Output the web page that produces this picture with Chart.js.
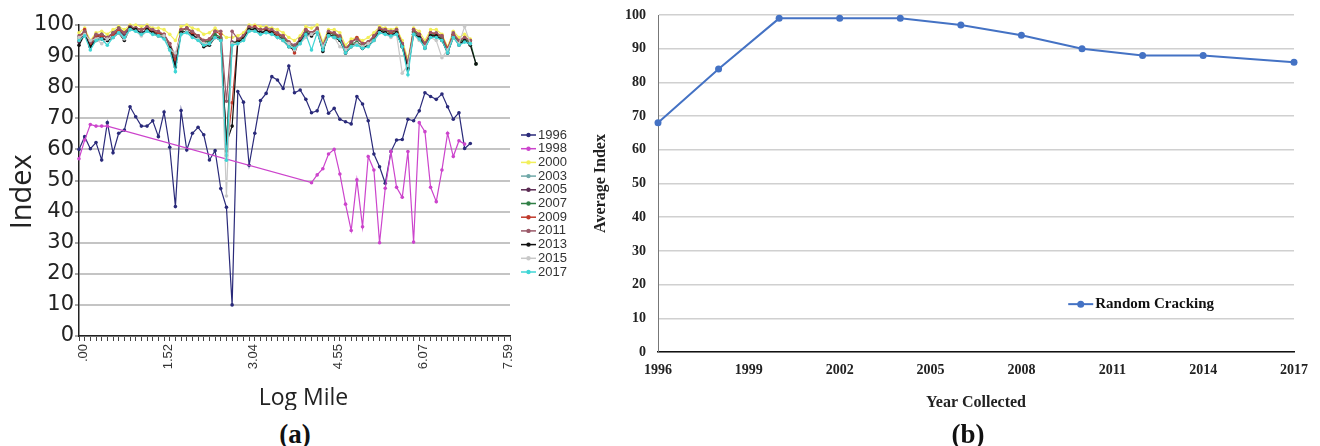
<!DOCTYPE html>
<html>
<head>
<meta charset="utf-8">
<script src="https://cdn.jsdelivr.net/npm/chart.js@4.4.1/dist/chart.umd.min.js"></script>
<style>
  html, body { margin: 0; padding: 0; background: #fff; }
  body { width: 1320px; height: 446px; position: relative; overflow: hidden; }
  canvas { position: absolute; top: 0; }
  #chartA { left: 0; }
  #chartB { left: 590px; }
  .tag { position: absolute; top: 419px; line-height: 1; font: bold 27px 'Liberation Serif', serif; color: #111; transform: translateX(-50%); }
</style>
</head>
<body>
<canvas id="chartA" width="582" height="410"></canvas>
<canvas id="chartB" width="730" height="420"></canvas>
<div class="tag" style="left:295px">(a)</div>
<div class="tag" style="left:968px">(b)</div>
<script>
// ---------- (a) index along the log mile, one line per survey year ----------
const mileStep = 0.1012;
const logMiles = Array.from({ length: 77 }, (_, i) => (i * mileStep).toFixed(2));
const mileTickLabels = ['.00', '1.52', '3.04', '4.55', '6.07', '7.59'];

const idx1996 = [60.0, 64.1, 60.2, 62.2, 56.6, 68.6, 58.9, 65.2, 66.2, 73.7,
  70.5, 67.5, 67.5, 69.2, 64.1, 72.0, 60.7, 41.6, 72.5, 59.8,
  65.2, 67.1, 64.7, 56.6, 59.6, 47.4, 41.4, 10.0, 78.6, 75.2,
  54.9, 65.2, 75.7, 78.0, 83.4, 82.3, 79.6, 86.8, 78.2, 79.1,
  76.1, 71.8, 72.4, 77.0, 71.6, 73.2, 69.7, 68.9, 68.2, 77.0,
  74.6, 69.2, 58.5, 54.4, 49.1, 59.3, 63.0, 63.2, 69.7, 69.2,
  72.4, 78.2, 77.0, 76.1, 77.8, 73.7, 69.7, 71.8, 60.3, 61.9];

const idx1998 = [57, 63, 68, 67.5, 67.5, 67.5,
  null, null, null, null, null, null, null, null, null, null,
  null, null, null, null, null, null, null, null, null, null,
  null, null, null, null, null, null, null, null, null, null,
  null, null, null, null, null,
  49.3, 51.8, 53.8, 58.5, 60.0, 52.1, 42.4, 33.9, 50.2,
  35.1, 57.7, 53.4, 30.0, 47.5, 59.3, 47.8, 44.6, 59.3, 30.2,
  68.6, 65.7, 47.8, 43.2, 53.4, 65.2, 57.7, 62.8, 61.7];

const idx2000 = [97.5, 99, 95, 97.5, 98, 97, 98.5, 99.5, 98.5, 100,
  100, 99.5, 100, 99, 99, 98.5, 97, 95, 99.5, 100,
  99, 98.5, 97, 97.5, 99, 97.5, 96, 96, 96.5, 97.5,
  100, 100, 99.5, 99.5, 99, 98.5, 97.5, 96, 95, 96.5,
  99.5, 99, 100, 94.5, 98.5, 98.5, 97.5, 93.5, 95.5, 96,
  95, 96, 97.5, 99.5, 99, 98.5, 99, 95, 89, 99,
  98, 95, 98.5, 98.5, 97, 93, 98, 96, 97, 95.5];

const idx2003 = [96, 97.5, 93, 95.5, 96, 95, 96.5, 98, 96.5, 99,
  98.5, 97.5, 98.5, 97.5, 97, 96.5, 93, 87, 97.5, 98,
  97, 95.5, 94, 94.5, 96.5, 95.5, 58, 94, 94.5, 95.5,
  98.5, 98.5, 97.5, 98, 97.5, 96.5, 95.5, 93.5, 92.5, 94.5,
  97.5, 96.5, 98, 92.5, 97, 96.5, 95.5, 91.5, 93.5, 94,
  93, 93.5, 95.5, 98, 97.5, 97, 97.5, 93, 85.5, 97.5,
  96, 93, 96.5, 96.5, 95.5, 91.5, 96.5, 94, 95, 94];

const idx2005 = [94.5, 97.5, 93, 96.5, 96, 95, 96.5, 98, 97, 99,
  98.5, 97.5, 98.5, 98, 97, 96.5, 93, 88, 97.5, 98,
  97, 95.5, 95, 94.5, 96.5, 95.5, 62, 94.5, 94.5, 95.5,
  98.5, 98.5, 97.5, 98, 97.5, 96.5, 95.5, 93.5, 93.5, 94.5,
  97.5, 97, 98, 92, 96.5, 96.5, 95.5, 91, 93.5, 94,
  92.5, 93.5, 95.5, 98, 97.5, 97, 97.5, 93, 86.5, 97.5,
  96, 94, 96.5, 96.5, 95.5, 91, 96.5, 93.5, 95, 94];

const idx2007 = [96, 98, 94, 96.5, 97, 96, 97.5, 99, 97.5, 99.5,
  99, 98.5, 99, 98, 97.5, 96.5, 93, 89, 98, 99,
  97.5, 96.5, 94.5, 95, 97, 96, 60, 94, 95, 96,
  99, 99, 98.5, 98.5, 98, 97, 96, 94, 93, 95.5,
  98, 97.5, 98.5, 93, 97.5, 97, 96, 92, 94, 94.5,
  93.5, 94.5, 96, 98.5, 98, 97.5, 98, 93.5, 87, 98,
  96.5, 93.5, 97, 97, 96, 92, 97, 94.5, 95.5, 94.5, 87.5];

const idx2009 = [95, 98.5, 94, 96.5, 96.5, 96, 97, 98.5, 97.5, 99.5,
  99, 98.5, 99, 98, 97.5, 97, 94, 89, 98.5, 99,
  97.5, 96.5, 95, 95.5, 98, 97, 59.5, 75, 95, 96.5,
  99, 99.5, 98.5, 98.5, 98, 97, 96.5, 94.5, 91, 95.5,
  98.5, 97.5, 98.5, 93, 97.5, 97.5, 96, 92, 94.5, 96,
  94, 94.5, 96.5, 98.5, 98.5, 97.5, 98.5, 94, 87.5, 98.5,
  97, 94, 97.5, 97, 96.5, 92.5, 97, 95, 96, 95];

const idx2011 = [96.5, 98, 94.5, 97, 97, 96, 97.5, 99, 97.5, 99.5,
  99, 98.5, 99.5, 98.5, 98, 97, 94, 90, 98.5, 99,
  98, 96.5, 95, 95.5, 98, 98, 75.5, 98, 95.5, 96.5,
  99.5, 99, 98.5, 99, 98.5, 97.5, 96.5, 94.5, 93.5, 95.5,
  98.5, 97.5, 99, 93.5, 98, 97.5, 96.5, 92.5, 94.5, 95.5,
  94, 94.5, 96.5, 99, 98.5, 98, 98.5, 94, 88, 98.5,
  97, 94, 97.5, 97.5, 96.5, 92, 97.5, 95, 96, 95];

const idx2013 = [93.5, 97, 93, 95, 95.5, 95, 96, 97.5, 95, 99,
  98.5, 97, 98.5, 97.5, 96.5, 96, 92.5, 86.5, 97.5, 98,
  96.5, 95.5, 93, 93.5, 96, 95, 62, 67.5, 94.5, 95.5,
  98.5, 98.5, 97.5, 98, 97.5, 96, 95, 93, 92, 94.5,
  97, 96.5, 98, 91.5, 97, 96, 95, 91, 93, 94,
  92.5, 93.5, 95, 98, 97.5, 96.5, 97.5, 93, 86, 97,
  96, 92.5, 96.5, 96.5, 95, 91, 96, 94, 95, 93.5, 87.5];

const idx2015 = [96, 97, 95, 95.5, 94, 95.5, 96, 97.5, 95.5, 98.5,
  98, 96.5, 98, 97, 96.5, 96.5, 92, 91, 97, 98,
  96, 95.5, 94, 94, 96, 95, 45, 94, 94, 95,
  98, 98, 97, 97.5, 97, 96, 95, 94, 92, 94,
  96, 97, 98, 93, 96.5, 96, 93, 92, 93, 94,
  93, 94, 95, 97.5, 97, 96, 97, 84.5, 87, 97,
  95, 93, 96, 95, 89.5, 92, 96, 94, 99.5, 94];

const idx2017 = [95, 96.5, 92, 95, 95.5, 93.5, 96, 97.5, 96, 98.5,
  98, 97, 98, 97, 96.5, 95.5, 92, 85, 97, 97.5,
  96, 95, 93.5, 94, 96, 95, 56.5, 93.5, 94, 95,
  98, 98, 97, 97.5, 97, 96, 95, 93, 92.5, 94,
  97, 92, 97.5, 92, 96.5, 96, 95.5, 91, 93, 93.5,
  92.5, 93, 95, 97.5, 97, 96.5, 97, 93, 84, 97,
  95.5, 92.5, 96, 96, 95, 91, 96, 93.5, 94.5, 94];

// ---------- (b) average index by year ----------
const surveyYears = [1996, 1998, 2000, 2002, 2004, 2006, 2008, 2010, 2012, 2014, 2017];
const randomCracking = [68, 84, 99, 99, 99, 97, 94, 90, 88, 88, 86];

Chart.defaults.animation = false;
Chart.defaults.devicePixelRatio = 1;

function series(label, data, color, k) {
  return {
    label: label,
    data: data,
    borderColor: color,
    backgroundColor: color,
    pointBackgroundColor: color,
    borderWidth: 1.2,
    pointRadius: 1.8,
    pointBorderWidth: 0,
    spanGaps: true,
    clip: false,
    order: -k
  };
}

const yearSets = [
  ['1996', idx1996, '#2a2a7a'],
  ['1998', idx1998, '#cc44cc'],
  ['2000', idx2000, '#f2ef5a'],
  ['2003', idx2003, '#6fa8a8'],
  ['2005', idx2005, '#5a2a52'],
  ['2007', idx2007, '#2f7f45'],
  ['2009', idx2009, '#c0392b'],
  ['2011', idx2011, '#9a5868'],
  ['2013', idx2013, '#111111'],
  ['2015', idx2015, '#c8c8c8'],
  ['2017', idx2017, '#3fd6d6']
];

// legend item: short line with a dot, then the label
function legendItem(ctx, x, y, len, lw, r, color, text, font, textColor) {
  ctx.strokeStyle = color;
  ctx.fillStyle = color;
  ctx.lineWidth = lw;
  ctx.beginPath(); ctx.moveTo(x, y); ctx.lineTo(x + len, y); ctx.stroke();
  ctx.beginPath(); ctx.arc(x + len / 2, y, r, 0, Math.PI * 2); ctx.fill();
  ctx.fillStyle = textColor;
  ctx.font = font;
  ctx.textBaseline = 'middle';
  ctx.fillText(text, x + len + 2, y);
}

const yearLegend = {
  id: 'yearLegend',
  afterDraw(chart) {
    const { ctx, chartArea } = chart;
    ctx.save();
    chart.data.datasets.forEach((ds, i) => {
      legendItem(ctx, chartArea.right + 11, chartArea.top + 110 + i * 13.7, 15, 1.5, 2.2,
        ds.borderColor, ds.label, '13px "Liberation Sans"', '#333');
    });
    ctx.restore();
  }
};

new Chart(document.getElementById('chartA'), {
  type: 'line',
  data: {
    labels: logMiles,
    datasets: yearSets.map((s, k) => series(s[0], s[1], s[2], k))
  },
  options: {
    responsive: false,
    layout: { padding: { top: 25, left: 0, right: 72, bottom: 0 } },
    plugins: { legend: { display: false }, tooltip: { enabled: false } },
    scales: {
      x: {
        type: 'category',
        offset: false,
        grid: { drawOnChartArea: false, drawTicks: true, tickLength: 5, tickColor: '#444', tickWidth: 1 },
        border: { color: '#222', width: 1.5 },
        ticks: {
          autoSkip: false, minRotation: 90, maxRotation: 90, padding: 3, labelOffset: 4,
          color: '#333', font: { family: 'Liberation Sans', size: 13 },
          callback: (v, i) => (i % 15 === 0 ? mileTickLabels[i / 15] : '')
        },
        title: {
          display: true, text: '   Log Mile', color: '#222',
          font: { family: 'Open Sans', size: 23, lineHeight: 1 }, padding: { top: 0, bottom: 0 }
        },
        afterFit: s => { s.height = 74; }
      },
      y: {
        min: 0, max: 100,
        ticks: { stepSize: 10, padding: 1, color: '#222', font: { family: 'DejaVu Sans', size: 21 } },
        grid: { color: '#c4c4c4', lineWidth: 2, tickColor: '#555', tickWidth: 1, tickLength: 4 },
        border: { color: '#222', width: 1.5 },
        title: {
          display: true, text: 'Index   ', color: '#222',
          font: { family: 'Open Sans', size: 29, lineHeight: 1 }, padding: { top: 8, bottom: 0 }
        },
        afterFit: s => { s.width = 79; }
      }
    }
  },
  plugins: [yearLegend]
});

// legend for (b), drawn inside the plot area
const crackingLegend = {
  id: 'crackingLegend',
  afterDraw(chart) {
    const { ctx, chartArea } = chart;
    const ds = chart.data.datasets[0];
    const x = chartArea.left + (chartArea.right - chartArea.left) * 0.645;
    const y = chartArea.top + (chartArea.bottom - chartArea.top) * 0.858;
    ctx.save();
    legendItem(ctx, x, y, 25, 2, 3.5, ds.borderColor, ds.label, 'bold 15px "Liberation Serif"', '#111');
    ctx.restore();
  }
};

new Chart(document.getElementById('chartB'), {
  type: 'line',
  data: {
    datasets: [{
      label: 'Random Cracking',
      data: surveyYears.map((yr, i) => ({ x: yr, y: randomCracking[i] })),
      borderColor: '#4472c4',
      backgroundColor: '#4472c4',
      pointBackgroundColor: '#4472c4',
      borderWidth: 2,
      pointRadius: 3.5,
      pointBorderWidth: 0,
      clip: false
    }]
  },
  options: {
    responsive: false,
    layout: { padding: { top: 15, right: 26, left: 0, bottom: 0 } },
    plugins: { legend: { display: false }, tooltip: { enabled: false } },
    scales: {
      x: {
        type: 'linear', min: 1996, max: 2017,
        ticks: {
          stepSize: 3, padding: 10, color: '#222',
          font: { family: 'Liberation Serif', size: 14, weight: 'bold' },
          callback: v => String(v)
        },
        grid: { drawOnChartArea: false, drawTicks: false },
        border: { color: '#111', width: 1.5 },
        title: {
          display: true, text: 'Year Collected', color: '#222',
          font: { family: 'Liberation Serif', size: 16, weight: 'bold', lineHeight: 1.2 },
          padding: { top: 0, bottom: 8 }
        },
        afterFit: s => { s.height = 68; }
      },
      y: {
        min: 0, max: 100,
        ticks: {
          stepSize: 10, padding: 3, color: '#222',
          font: { family: 'Liberation Serif', size: 14, weight: 'bold' }
        },
        grid: { color: '#d0d0d0', lineWidth: 1.5, drawTicks: true, tickLength: 9, tickColor: 'rgba(0,0,0,0)' },
        border: { color: '#777', width: 1 },
        title: {
          display: true, text: 'Average Index', color: '#222',
          font: { family: 'Liberation Serif', size: 16, weight: 'bold', lineHeight: 1.2 },
          padding: { top: 1, bottom: 0 }
        },
        afterFit: s => { s.width = 68; }
      }
    }
  },
  plugins: [crackingLegend]
});
</script>
</body>
</html>
